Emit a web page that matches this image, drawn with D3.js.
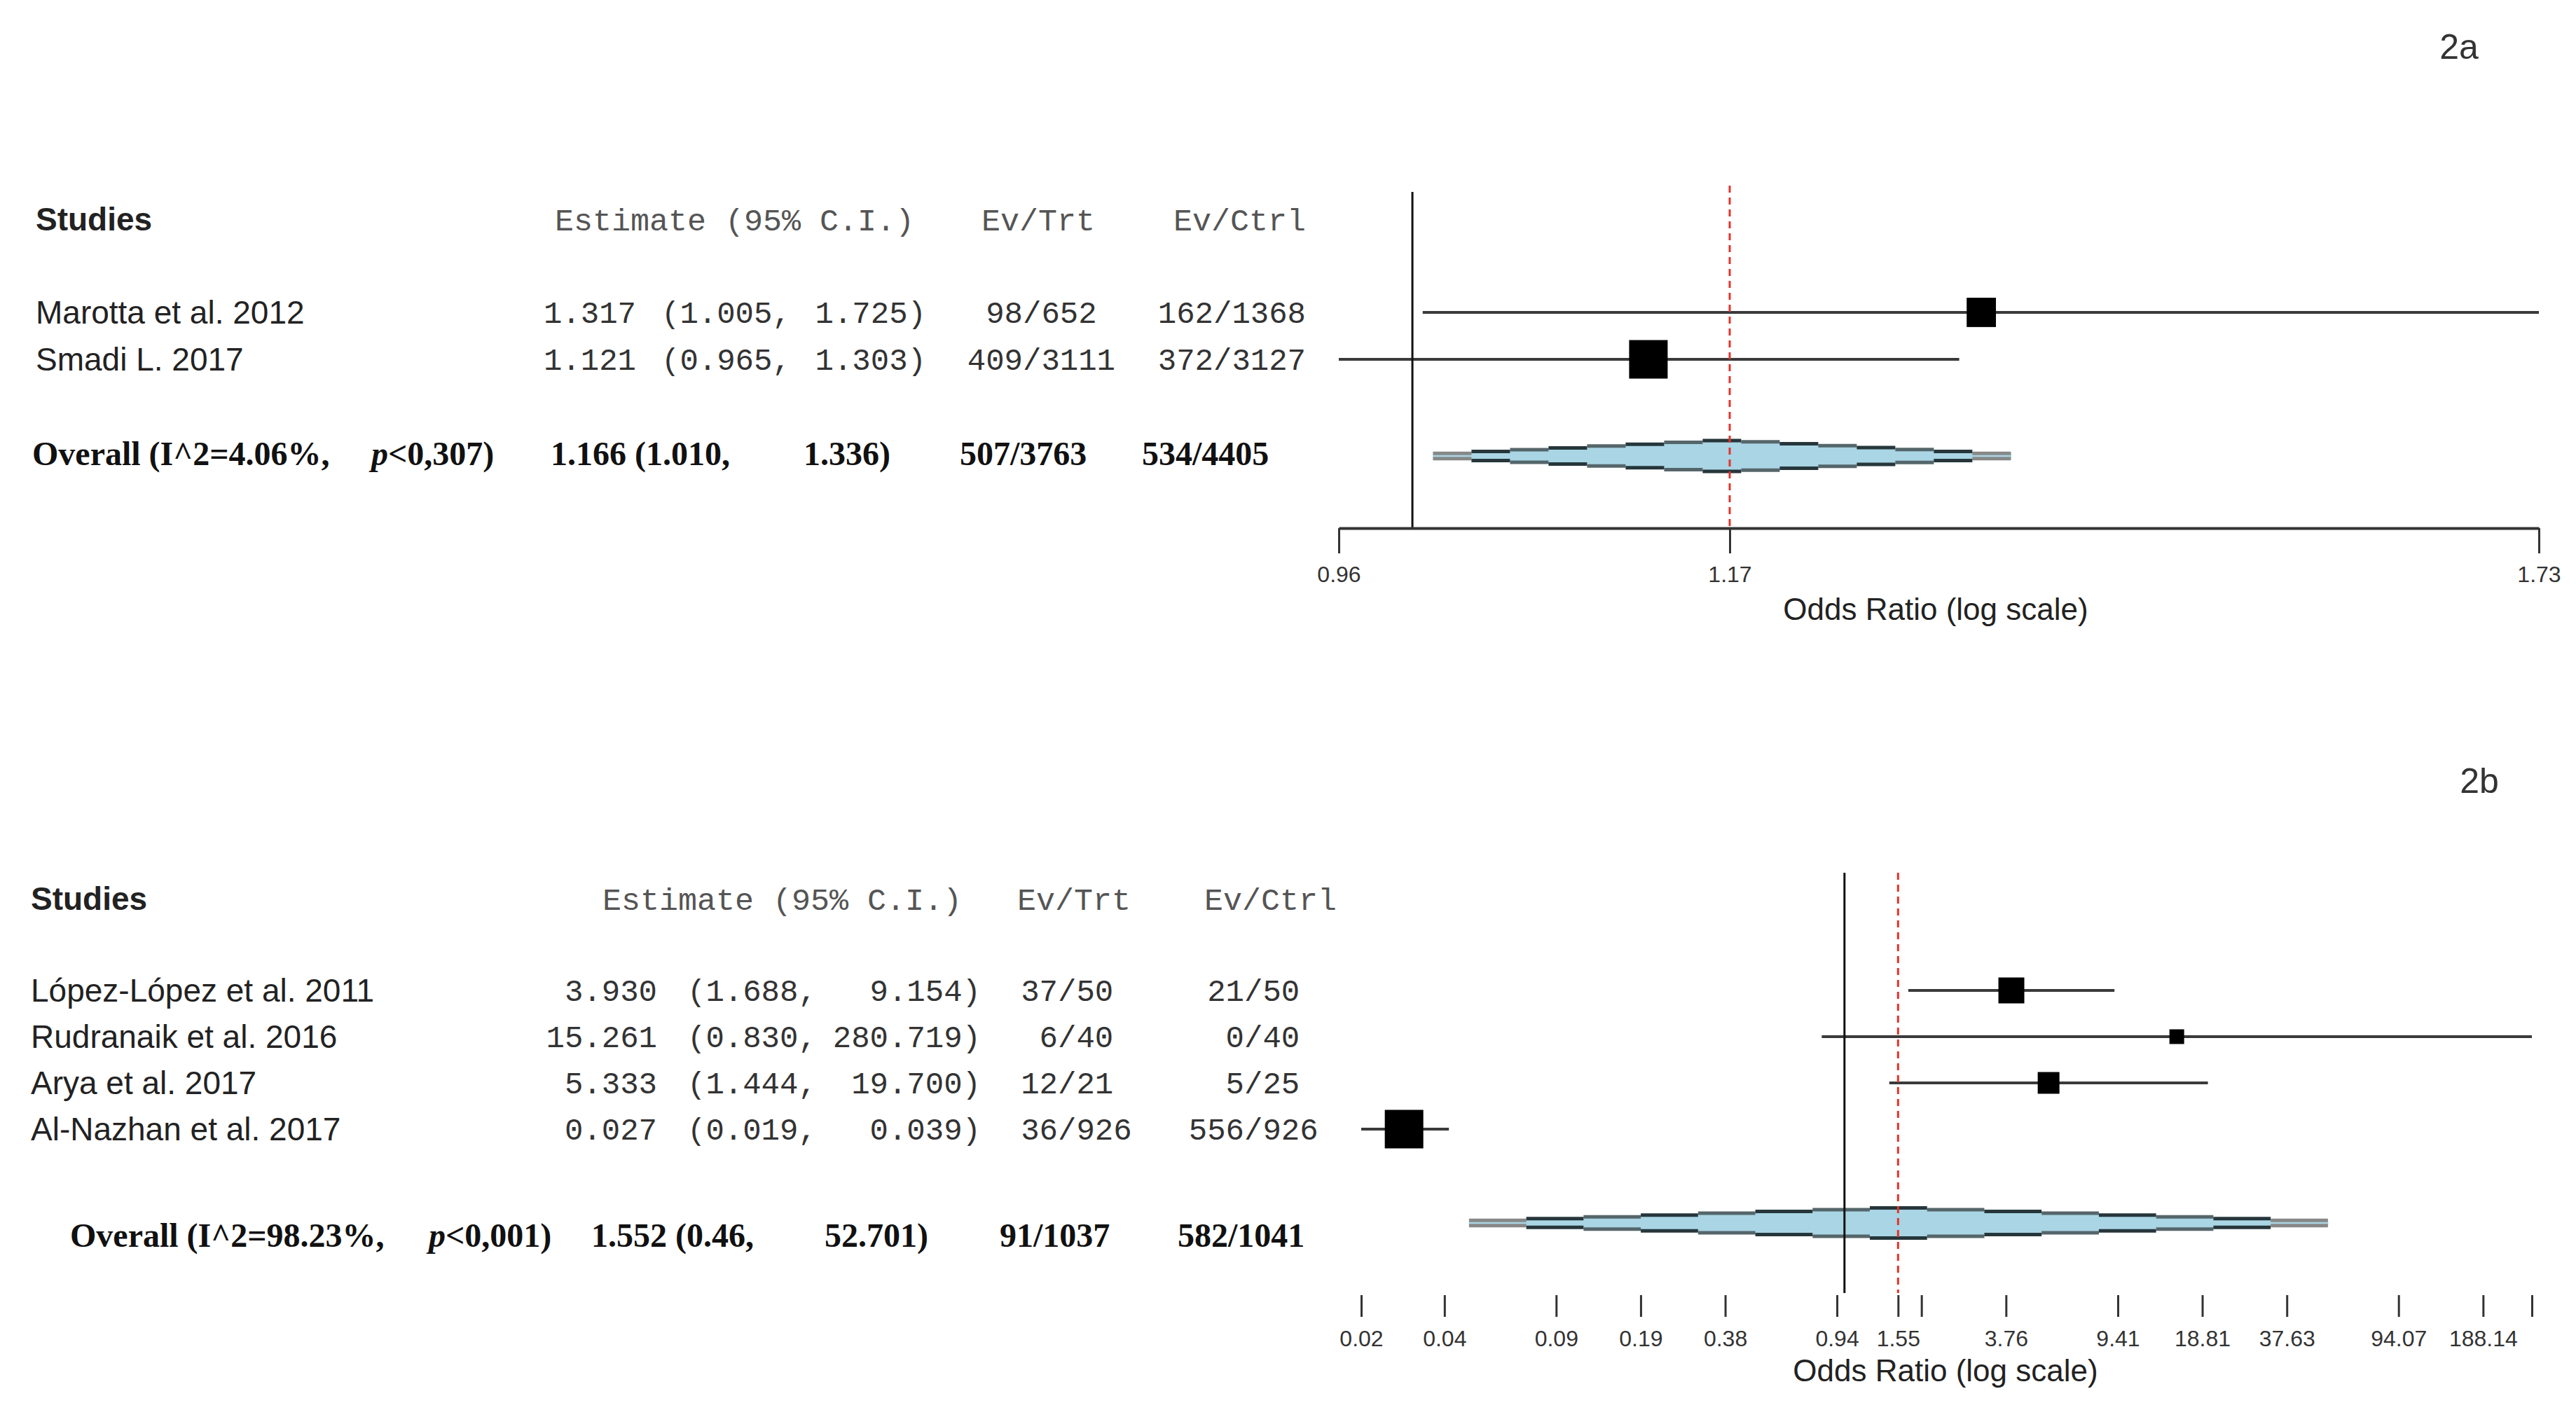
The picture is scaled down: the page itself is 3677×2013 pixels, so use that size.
<!DOCTYPE html>
<html lang="en">

<head>
    <meta charset="UTF-8">
    <title>Forest plots 2a / 2b</title>
    <style>
        body {
            margin: 0;
            background: #fff;
        }
        .sans { font-family: "Liberation Sans", Arial, sans-serif; }
        .mono { font-family: "Liberation Mono", "DejaVu Sans Mono", monospace; }
        .serif { font-family: "Liberation Serif", "Times New Roman", serif; }
    </style>
</head>

<body>
    <svg id="chart"></svg>
    <script src="https://d3js.org/d3.v7.min.js"></script>
    <script>
        // panel 2a
        var studiesA = ["Marotta et al. 2012", "Smadi L. 2017"];
        var estA = [1.317, 1.121];
        var lowerA = [1.005, 0.965];
        var upperA = [1.725, 1.303];
        var evTrtA = ["98/652", "409/3111"];
        var evCtrlA = ["162/1368", "372/3127"];
        var weightA = [36.6, 63.4];
        var overallA = [1.166, 1.010, 1.336]; // estimate, lower, upper
        var overallTextA = ["1.166 (1.010,", "1.336)"];
        var overallEvA = ["507/3763", "534/4405"];
        var overallStatA = ["Overall (I^2=4.06%,", "<0,307)"];
        var ticksA = [0.965, 1.166, 1.725];
        var tickLabelsA = ["0.96", "1.17", "1.73"];

        // panel 2b
        var studiesB = ["López-López et al. 2011", "Rudranaik et al. 2016", "Arya et al. 2017", "Al-Nazhan et al. 2017"];
        var estB = [3.930, 15.261, 5.333, 0.027];
        var lowerB = [1.688, 0.830, 1.444, 0.019];
        var upperB = [9.154, 280.719, 19.700, 0.039];
        var evTrtB = ["37/50", "6/40", "12/21", "36/926"];
        var evCtrlB = ["21/50", "0/40", "5/25", "556/926"];
        var weightB = [23.6, 7.6, 16.6, 52.2];
        var overallB = [1.552, 0.046, 52.701];
        var overallTextB = ["1.552 (0.46,", "52.701)"];
        var overallEvB = ["91/1037", "582/1041"];
        var overallStatB = ["Overall (I^2=98.23%,", "<0,001)"];
        var ticksB = [0.019, 0.0376, 0.094, 0.188, 0.376, 0.94, 1.552, 1.88, 3.76, 9.41, 18.81, 37.63, 94.07, 188.14, 280.719];
        var tickLabelsB = ["0.02", "0.04", "0.09", "0.19", "0.38", "0.94", "1.55", "", "3.76", "9.41", "18.81", "37.63", "94.07", "188.14", ""];

        var svg = d3.select("#chart")
            .attr("width", 3677)
            .attr("height", 2013);

        function drawPanel(d, L) {
            var g = svg.append("g");
            var x = d3.scaleLog()
                .domain([d.ticks[0], d.ticks[d.ticks.length - 1]])
                .range(L.xRange);
            var size = d3.scaleSqrt().domain([0, d3.max(d.weight)]).range([0, 55]);
            var rowY = function(i) { return L.row0 + i * L.rowStep; };

            // headers
            g.append("text").attr("class", "sans").attr("x", L.nameX).attr("y", L.headY).attr("dy", "0.35em")
                .attr("font-size", 46).attr("font-weight", "bold").attr("fill", "#222").text("Studies");
            var heads = [["Estimate (95% C.I.)", L.headEst], ["Ev/Trt", L.headTrt], ["Ev/Ctrl", L.headCtrl]];
            heads.forEach(function(h) {
                g.append("text").attr("class", "mono").attr("x", h[1]).attr("y", L.headY).attr("dy", "0.35em")
                    .attr("font-size", 45).attr("fill", "#555").text(h[0]);
            });

            // study rows text
            d.studies.forEach(function(s, i) {
                var y = rowY(i);
                g.append("text").attr("class", "sans").attr("x", L.nameX).attr("y", y).attr("dy", "0.35em")
                    .attr("font-size", 46).attr("fill", "#222").text(s);
                var m = g.append("g").attr("class", "mono").attr("font-size", 44).attr("fill", "#333");
                m.append("text").attr("x", L.estR).attr("y", y).attr("dy", "0.35em").attr("text-anchor", "end")
                    .text(d.est[i].toFixed(3));
                m.append("text").attr("x", L.loX).attr("y", y).attr("dy", "0.35em")
                    .text("(" + d.lower[i].toFixed(3) + ",");
                m.append("text").attr("x", L.hiR).attr("y", y).attr("dy", "0.35em").attr("text-anchor", "end")
                    .text(d.upper[i].toFixed(3) + ")");
                [[d.evTrt[i], L.trtSlash], [d.evCtrl[i], L.ctrlSlash]].forEach(function(e) {
                    var parts = e[0].split("/");
                    m.append("text").attr("x", e[1]).attr("y", y).attr("dy", "0.35em").attr("text-anchor", "end").text(parts[0]);
                    m.append("text").attr("x", e[1]).attr("y", y).attr("dy", "0.35em").text("/" + parts[1]);
                });
            });

            // overall row text
            var o = g.append("g").attr("class", "serif").attr("font-size", 48).attr("font-weight", "bold").attr("fill", "#111");
            o.append("text").attr("x", L.ovX[0]).attr("y", L.ovY).attr("dy", "0.35em").text(d.overallStat[0]);
            var pt = o.append("text").attr("x", L.ovX[1]).attr("y", L.ovY).attr("dy", "0.35em");
            pt.append("tspan").attr("font-style", "italic").text("p");
            pt.append("tspan").text(d.overallStat[1]);
            o.append("text").attr("x", L.ovX[2]).attr("y", L.ovY).attr("dy", "0.35em").text(d.overallText[0]);
            o.append("text").attr("x", L.ovX[3]).attr("y", L.ovY).attr("dy", "0.35em").text(d.overallText[1]);
            o.append("text").attr("x", L.ovX[4]).attr("y", L.ovY).attr("dy", "0.35em").text(d.overallEv[0]);
            o.append("text").attr("x", L.ovX[5]).attr("y", L.ovY).attr("dy", "0.35em").text(d.overallEv[1]);

            // CI lines and squares
            d.studies.forEach(function(s, i) {
                var y = rowY(i);
                g.append("line")
                    .attr("x1", x(d.lower[i])).attr("x2", x(d.upper[i]))
                    .attr("y1", y).attr("y2", y)
                    .attr("stroke", "#3a3a3a").attr("stroke-width", 4);
                var sz = size(d.weight[i]);
                g.append("rect")
                    .attr("x", x(d.est[i]) - sz / 2).attr("y", y - sz / 2)
                    .attr("width", sz).attr("height", sz)
                    .attr("fill", "#000");
            });

            // stepped diamond for the pooled estimate
            var xl = x(d.overall[1]), xc = x(d.overall[0]), xh = x(d.overall[2]);
            var n = 15, w = (xh - xl) / n;
            var cols = d3.range(n).map(function(i) {
                var cx = xl + (i + 0.5) * w;
                var t = cx < xc ? (xc - cx) / (xc - xl) : (cx - xc) / (xh - xc);
                return { x: xl + i * w, h: Math.max(2.5, L.diaH / 2 * (1 - t) + 2.5), edge: i === 0 || i === n - 1 };
            });
            var dg = g.append("g");
            dg.selectAll("rect").data(cols).enter().append("rect")
                .attr("x", function(c) { return c.x; })
                .attr("y", function(c) { return L.diaY - c.h; })
                .attr("width", w + 0.5)
                .attr("height", function(c) { return 2 * c.h; })
                .attr("fill", "#a9d5e4");
            ["top", "bottom"].forEach(function(side) {
                dg.selectAll("line." + side).data(cols).enter().append("line")
                    .attr("class", side)
                    .attr("x1", function(c) { return c.x; })
                    .attr("x2", function(c) { return c.x + w; })
                    .attr("y1", function(c) { return side === "top" ? L.diaY - c.h : L.diaY + c.h; })
                    .attr("y2", function(c) { return side === "top" ? L.diaY - c.h : L.diaY + c.h; })
                    .attr("stroke", function(c, i) { return c.edge ? "#888" : (i % 2 ? "#26363b" : "#55666b"); })
                    .attr("stroke-width", 5);
            });

            // reference lines
            g.append("line")
                .attr("x1", x(1)).attr("x2", x(1))
                .attr("y1", L.vTop).attr("y2", L.vBot)
                .attr("stroke", "#111").attr("stroke-width", 3);
            g.append("line")
                .attr("x1", x(d.overall[0])).attr("x2", x(d.overall[0]))
                .attr("y1", L.redTop).attr("y2", L.vBot)
                .attr("stroke", "#e3342c").attr("stroke-width", 3)
                .attr("stroke-dasharray", "10,7");

            // x axis
            var axis = d3.axisBottom(x)
                .tickValues(d.ticks)
                .tickFormat(function(v, i) { return d.tickLabels[i]; })
                .tickSize(L.tickLen)
                .tickSizeOuter(0)
                .tickPadding(L.tickPad);
            var ag = g.append("g")
                .attr("transform", "translate(0," + L.axisY + ")")
                .call(axis)
                .attr("font-size", 32)
                .attr("font-family", "Liberation Sans, Arial, sans-serif")
                .attr("color", "#333");
            ag.selectAll(".tick line").attr("stroke-width", 3);
            if (L.axisLine) {
                ag.select(".domain").attr("stroke-width", 4);
            } else {
                ag.select(".domain").remove();
            }
            g.append("text").attr("class", "sans")
                .attr("x", L.titleX).attr("y", L.titleY).attr("dy", "0.35em")
                .attr("text-anchor", "middle").attr("font-size", 44).attr("fill", "#222")
                .text("Odds Ratio (log scale)");

            // panel tag
            g.append("text").attr("class", "sans")
                .attr("x", L.tagX).attr("y", L.tagY).attr("dy", "0.35em")
                .attr("text-anchor", "middle").attr("font-size", 50).attr("fill", "#333")
                .text(d.tag);
        }

        drawPanel({
            studies: studiesA, est: estA, lower: lowerA, upper: upperA,
            evTrt: evTrtA, evCtrl: evCtrlA, weight: weightA,
            overall: overallA, overallText: overallTextA, overallEv: overallEvA, overallStat: overallStatA,
            ticks: ticksA, tickLabels: tickLabelsA, tag: "2a"
        }, {
            nameX: 51, headY: 313, headEst: 792, headTrt: 1401, headCtrl: 1675,
            estR: 908, loX: 944, hiR: 1322, trtSlash: 1460, ctrlSlash: 1732,
            row0: 446, rowStep: 67,
            ovY: 647, ovX: [46, 530, 786, 1147, 1370, 1630],
            diaY: 651, diaH: 40,
            xRange: [1911, 3624],
            vTop: 274, redTop: 265, vBot: 754,
            axisY: 754, tickLen: 36, tickPad: 18, axisLine: true,
            titleX: 2763, titleY: 870,
            tagX: 3510, tagY: 66
        });

        drawPanel({
            studies: studiesB, est: estB, lower: lowerB, upper: upperB,
            evTrt: evTrtB, evCtrl: evCtrlB, weight: weightB,
            overall: overallB, overallText: overallTextB, overallEv: overallEvB, overallStat: overallStatB,
            ticks: ticksB, tickLabels: tickLabelsB, tag: "2b"
        }, {
            nameX: 44, headY: 1283, headEst: 860, headTrt: 1452, headCtrl: 1719,
            estR: 938, loX: 981, hiR: 1400, trtSlash: 1510, ctrlSlash: 1776,
            row0: 1414, rowStep: 66,
            ovY: 1763, ovX: [100, 612, 844, 1177, 1427, 1681],
            diaY: 1746, diaH: 38,
            xRange: [1943, 3614],
            vTop: 1246, redTop: 1246, vBot: 1846,
            axisY: 1849, tickLen: 31, tickPad: 19, axisLine: false,
            titleX: 2777, titleY: 1957,
            tagX: 3539, tagY: 1114
        });
    </script>
</body>

</html>
